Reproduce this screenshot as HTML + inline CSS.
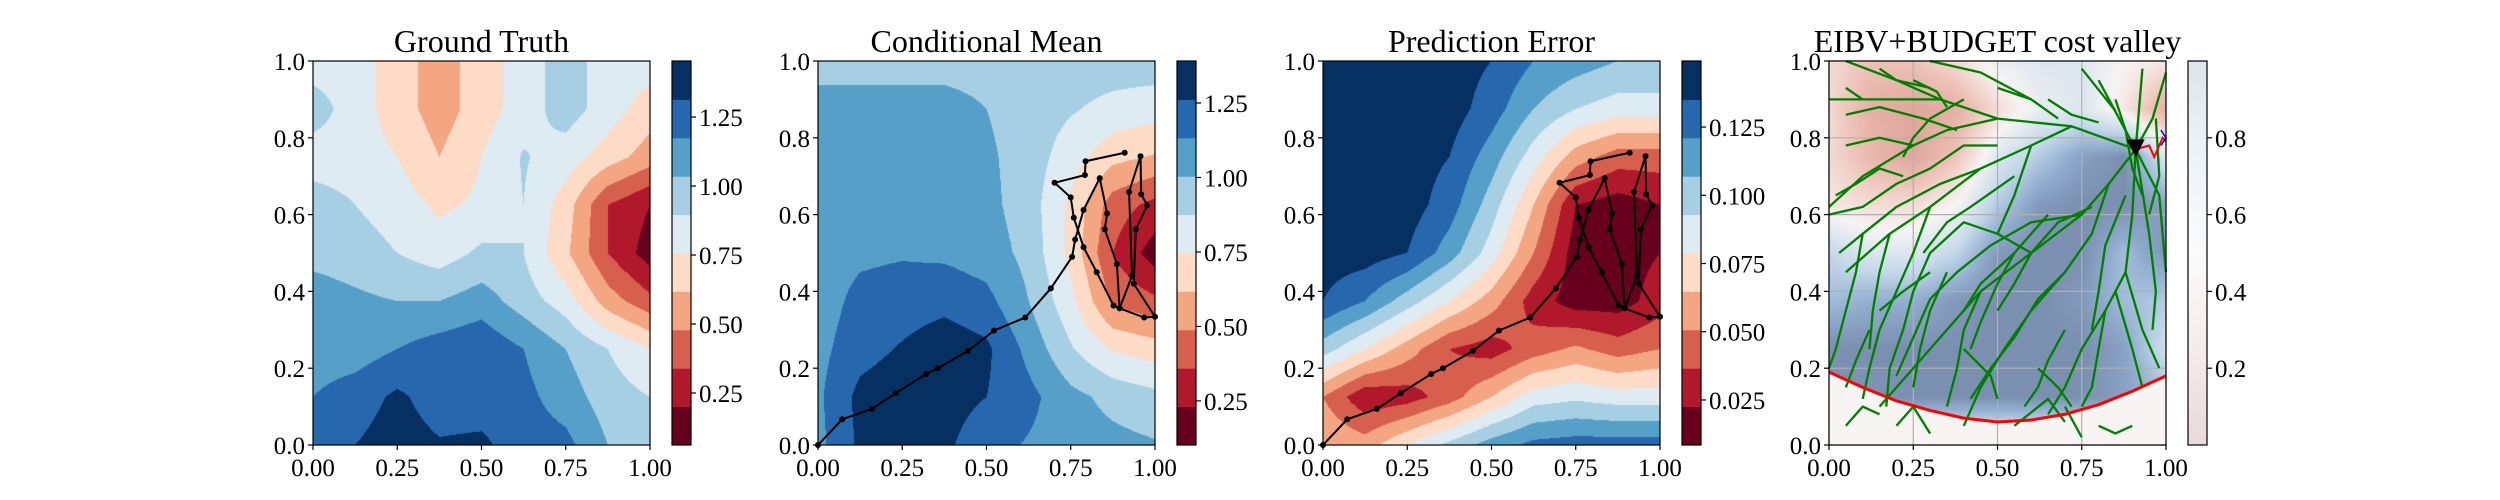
<!DOCTYPE html>
<html><head><meta charset="utf-8">
<style>
html,body{margin:0;padding:0;background:#fff;}
#root{position:relative;width:2500px;height:500px;overflow:hidden;font-family:"Liberation Serif",serif;}
canvas{position:absolute;}
svg{position:absolute;left:0;top:0;font-family:"Liberation Serif",serif;}
svg text{font-family:"Liberation Serif",serif;}
</style></head>
<body>
<div id="root">
<canvas id="c0" width="337" height="384" style="left:313px;top:61px"></canvas>
<canvas id="c1" width="337" height="384" style="left:818px;top:61px"></canvas>
<canvas id="c2" width="337" height="384" style="left:1323px;top:61px"></canvas>
<canvas id="c3" width="337" height="384" style="left:1829px;top:61px"></canvas>
<svg id="svg" width="2500" height="500"></svg>
</div>
<script>
// ---- data (grid nodes at x,y = 0..1 step 0.125; rows listed from y=1 down to y=0) ----
const truthGrid = [
[5,5,4,3,4,5,6,5,5],
[6,5,4,3,4,5,6,5,4],
[5,5,4.5,3.5,4.5,5.6,5,4,3],
[6,5.5,5,4.3,4.7,5.5,4,1.5,0.5],
[6.2,6,5.5,5,5.7,5.5,3.7,1.5,0],
[7,6.7,6.5,6.5,7,6,5,3,1.8],
[7,7,7.5,8,8.3,7.5,6.5,5.5,4.5],
[7.5,8,8.7,8,8,7.8,7,6,5.5],
[8,8.5,9,8.6,8.7,8,7.8,6.5,6]];
const meanGrid = [
[6,6,6,6,6,6,6,6,6],
[7,7,7,7,6.5,6,5.6,5.2,5],
[7,7,7,7,6.7,6,5,3.8,3.4],
[7,7,7,7,6.8,6,4.3,2,1.2],
[7,7.3,7.4,7.3,7,6.2,4.2,1.5,0],
[7,7.8,8,8.2,7.8,6.5,4.8,2.3,1.7],
[7.2,8.1,8.6,9.1,8.7,7.2,5.6,4.4,4],
[7.3,8.8,9.2,8.9,8.5,7.8,6.8,6.2,5.8],
[7.2,8.7,9.1,8.7,7.9,7.4,7,6.8,6.6]];
const errorGrid = [
[9,9,9,9,8.5,7.5,7,6.5,6.5],
[9,9,9,9,8,6.5,5.5,5,5],
[9,9,9,8.5,7,5,3,2,2],
[9,9,9,8,6,3.5,0.5,0,0.5],
[9,9,8.5,7,5,2.5,0,0,0.5],
[8.5,7.5,6,4.5,3,1,0,0,1],
[6,4.5,3,1.5,1,2,2.7,2,2.5],
[2.5,0.7,1,2,3.5,5,5.3,5,5],
[3.5,3,4.5,5.8,7,7.8,8,8,8]];
const costGrid = [
[.4,.3,.3,.4,.55,.6,.6,.5,.45],
[.4,.2,.15,.2,.4,.55,.6,.45,.2],
[.4,.25,.15,.3,.6,.75,.9,.97,.6],
[.45,.4,.4,.5,.75,.93,.97,.97,.9],
[.7,.6,.6,.7,.93,.97,.97,.8,.95],
[.8,.85,.85,.93,.97,.97,.93,.8,.75],
[.97,.97,.97,.97,.97,.97,.97,.9,.65],
[.95,.95,.97,.97,.97,.97,.97,.9,.8],
[.5,.5,.5,.5,.5,.5,.5,.5,.5]];
// sampled path (x, y)
const pathX = [0,.072,.16,.231,.321,.356,.445,.522,.615,.691,.754,.763,.788,.836,.858,.851,.887,.895,.932,.923,.957,.959,.977,.943,.937,1.0,.968,.895,.877,.827,.788,.759,.75,.702,.792,.794,.91];
const pathY = [0,.067,.094,.135,.185,.2,.245,.298,.332,.408,.49,.535,.612,.695,.603,.562,.471,.356,.441,.659,.752,.653,.624,.562,.42,.334,.332,.356,.363,.45,.515,.592,.645,.683,.703,.739,.761];
// budget arc
const arcX = [0,.1,.2,.3,.4,.5,.6,.7,.8,.9,1];
const arcY = [.19,.15,.115,.09,.07,.06,.065,.08,.105,.14,.18];
// tree branches (polylines, x list and y list)
const treeX = [
[.91,.72,.5,.33,.1,0],[.72,.6,.45,.3,.18,.05],[.5,.35,.25,.1,0],[.33,.2,.05],[.45,.33,.2,.1,.03],
[.6,.45,.3],[.8,.91],[.75,.85],[.93,.91],[1,.96,.91],
[.91,.83,.75,.6,.45,.35,.25,.15],[.83,.78,.7,.6,.52,.45,.4],[.91,.9,.88,.82,.75,.7,.65],[.91,.95,.97,.96],[.91,.98,1],
[.75,.6,.48,.38,.3,.25,.2],[.6,.5,.4,.3,.25,.22,.18,.17],[.3,.25,.2,.15,.12,.1],[.1,.08,.05,.02,0],
[.82,.8,.78,.75],[.85,.9,.93],[.88,.93,.98],[.7,.62,.55,.48,.42],[.45,.4,.38,.35],[.18,.15,.13,.12],
[.5,.4,.3,.2,.1,0],[.6,.55,.5],[.1,.05],[.25,.15,.05],[.4,.3,.25,.22],[.65,.72,.8],
[.05,.1,.15],[.2,.25,.3],[.55,.65,.7],[.75,.7],[.8,.85,.9],
[.38,.28,.15,.05],[.22,.15,.08,.02],[.55,.42,.35,.28],[.65,.55,.45,.4],[.78,.68,.6,.55,.5],
[.88,.82,.8,.78],[.7,.65,.62,.58],[.55,.5,.45,.42],[.35,.3,.27,.25],[.12,.08,.05],
[.25,.32,.35],[.15,.2,.3],[.5,.6,.68],[.85,.88,.9,.93],[.97,.98,.95],
[.62,.68,.72],[.4,.48,.5],[.3,.22,.15]];
const treeY = [
[.77,.83,.85,.9,.9,.9],[.83,.78,.72,.62,.55,.45],[.85,.82,.78,.7,.62],[.9,.95,1],[.72,.68,.62,.55,.5],
[.9,.97,1],[.95,.77],[.98,.87],[.98,.77],[.97,.85,.77],
[.77,.68,.6,.5,.4,.3,.2,.1],[.68,.55,.45,.35,.25,.15,.05],[.77,.6,.45,.35,.25,.15,.08],[.77,.55,.4,.3],[.77,.65,.45],
[.6,.58,.52,.45,.38,.28,.18],[.5,.55,.58,.5,.4,.3,.2,.1],[.62,.5,.4,.3,.2,.12],[.55,.45,.35,.25,.2],
[.35,.25,.15,.1],[.4,.25,.15],[.45,.3,.2],[.45,.38,.28,.2,.12],[.4,.3,.2,.1],[.55,.45,.35,.25],
[.78,.78,.72,.68,.62,.6],[.78,.65,.55],[.9,.93],[.78,.8,.78],[.9,.85,.8,.75],[.9,.86,.84],
[.05,.1,.08],[.05,.1,.03],[.05,.12,.06],[.02,.1],[.05,.03,.05],
[.82,.85,.88,.86],[.7,.72,.68,.65],[.7,.62,.58,.5],[.6,.5,.42,.35],[.62,.58,.5,.42,.35],
[.65,.52,.4,.3],[.3,.22,.15,.1],[.5,.42,.32,.25],[.45,.35,.25,.15],[.3,.22,.15],
[.95,.92,.88],[.98,.95,.93],[.93,.9,.85],[.9,.82,.72,.65],[.85,.7,.6],
[.2,.15,.1],[.25,.18,.12],[.45,.4,.35]];
const cbTicks = [[0.25,0.5,0.75,1.0,1.25],[0.25,0.5,0.75,1.0,1.25],[0.025,0.05,0.075,0.1,0.125],[0.2,0.4,0.6,0.8]];
const cbTickText = [["0.25","0.50","0.75","1.00","1.25"],["0.25","0.50","0.75","1.00","1.25"],["0.025","0.050","0.075","0.100","0.125"],["0.2","0.4","0.6","0.8"]];
const cbRange = [[0.0616,1.453],[0.102,1.391],[0.0085,0.1492],[0,1]];
const titles = ["Ground Truth","Conditional Mean","Prediction Error","EIBV+BUDGET cost valley"];
const xTicks = [0,0.25,0.5,0.75,1];
const xTickText = ["0.00","0.25","0.50","0.75","1.00"];
const yTicks = [0,0.2,0.4,0.6,0.8,1];
const yTickText = ["0.0","0.2","0.4","0.6","0.8","1.0"];

// ---- layout ----
const LEFTS=[313,818,1323,1829], TOP=61, W=337, H=384;
const BANDS=['#67001f','#b2182b','#d6604d','#f4a582','#fddbc7','#deebf2','#a7cfe4','#569fc9','#2767ad','#053061'];
const NS='http://www.w3.org/2000/svg';
const svg=document.getElementById('svg');
function el(tag,attrs,parent){const e=document.createElementNS(NS,tag);for(const k in attrs)e.setAttribute(k,attrs[k]);(parent||svg).appendChild(e);return e;}
function hex(h){return [parseInt(h.substr(1,2),16),parseInt(h.substr(3,2),16),parseInt(h.substr(5,2),16)];}
function bil(g,x,y){const gx=Math.min(7.9999,x*8),gy=Math.min(7.9999,(1-y)*8);const i=Math.floor(gx),j=Math.floor(gy),fx=gx-i,fy=gy-j;
 return g[j][i]*(1-fx)*(1-fy)+g[j][i+1]*fx*(1-fy)+g[j+1][i]*(1-fx)*fy+g[j+1][i+1]*fx*fy;}
const bandRGB=BANDS.map(hex);
function drawBanded(id,g){const c=document.getElementById(id).getContext('2d');const im=c.createImageData(W,H);
 for(let py=0;py<H;py++)for(let px=0;px<W;px++){const v=bil(g,(px+.5)/W,1-(py+.5)/H);let b=Math.round(v);b=Math.max(0,Math.min(9,b));const k=(py*W+px)*4,cc=bandRGB[b];im.data[k]=cc[0];im.data[k+1]=cc[1];im.data[k+2]=cc[2];im.data[k+3]=255;}
 c.putImageData(im,0,0);}
drawBanded('c0',truthGrid);drawBanded('c1',meanGrid);drawBanded('c2',errorGrid);
const costStops=[[0,'#d38a80'],[0.3,'#eec2b8'],[0.5,'#f7f4f3'],[0.7,'#c4d8ea'],[0.85,'#93aed0'],[1,'#7587a8']].map(s=>[s[0],hex(s[1])]);
function costColor(v){for(let i=1;i<costStops.length;i++){if(v<=costStops[i][0]){const a=costStops[i-1],b=costStops[i],t=(v-a[0])/(b[0]-a[0]);return [0,1,2].map(k=>Math.round(a[1][k]+(b[1][k]-a[1][k])*t));}}return costStops[costStops.length-1][1];}
(function(){const c=document.getElementById('c3').getContext('2d');const im=c.createImageData(W,H);
 for(let py=0;py<H;py++)for(let px=0;px<W;px++){const x=(px+.5)/W,y=1-(py+.5)/H;let v=bil(costGrid,x,y);
  const ai=Math.min(9,Math.floor(x*10)),t=x*10-ai,ay=arcY[ai]+(arcY[Math.min(10,ai+1)]-arcY[ai])*t;if(y<ay)v=0.5;
  const cc=costColor(v),k=(py*W+px)*4;im.data[k]=cc[0];im.data[k+1]=cc[1];im.data[k+2]=cc[2];im.data[k+3]=255;}
 c.putImageData(im,0,0);})();

for(let p=0;p<4;p++){
 const L=LEFTS[p];const sx=v=>L+v*W, sy=v=>TOP+H-v*H;
 const g=el('g',{});
 
 
 if(p===3){
  for(const t of xTicks){const ln=el('line',{x1:sx(t),x2:sx(t),y1:TOP,y2:TOP+H,stroke:'#b0b0b0','stroke-width':1.2},g);
   
   }
  for(const t of yTicks){const ln=el('line',{x1:L,x2:L+W,y1:sy(t),y2:sy(t),stroke:'#b0b0b0','stroke-width':1.2},g);
   
   }
  for(let b=0;b<treeX.length;b++){const pts=treeX[b].map((x,i)=>sx(x)+','+sy(treeY[b][i])).join(' ');
   const pl=el('polyline',{points:pts,fill:'none',stroke:'#008000','stroke-width':2.3,'stroke-linejoin':'round'},g);
   
   }
  const arc=el('polyline',{points:arcX.map((x,i)=>sx(x)+','+sy(arcY[i])).join(' '),fill:'none',stroke:'#ff0000','stroke-width':3},g);
  
  
  const rp=el('polyline',{points:[[.91,.77],[.95,.78],[.965,.75],[.99,.8],[1,.79]].map(q=>sx(q[0])+','+sy(q[1])).join(' '),fill:'none',stroke:'#ff0000','stroke-width':2},g);
  
  
  const bp=el('polyline',{points:[sx(.985)+','+sy(.82),sx(1)+','+sy(.8),sx(.985)+','+sy(.78)].join(' '),fill:'none',stroke:'#0000ff','stroke-width':1.5},g);
  
  
  const mx=sx(.91),my=sy(.77);
  const mk=el('polygon',{points:`${mx-9},${my-10} ${mx+9},${my-10} ${mx},${my+8}`,fill:'#000'},g);
  
  
 }
 if(p===1||p===2){
  const pl=el('polyline',{points:pathX.map((x,i)=>sx(x)+','+sy(pathY[i])).join(' '),fill:'none',stroke:'#000','stroke-width':2},g);
  
  
  for(let i=0;i<pathX.length;i++){const c=el('circle',{cx:sx(pathX[i]),cy:sy(pathY[i]),r:3,fill:'#000'},g);
   
   }
 }
 const fr=el('rect',{x:L,y:TOP,width:W,height:H,fill:'none',stroke:'#000','stroke-width':1.2},g);
 
 
 for(let i=0;i<xTicks.length;i++){const x=sx(xTicks[i]);el('line',{x1:x,x2:x,y1:TOP+H,y2:TOP+H+5,stroke:'#000','stroke-width':1.2},g);
  const t=el('text',{x:x,y:TOP+H+31,'text-anchor':'middle','font-size':25},g);t.textContent=xTickText[i];
  
  }
 for(let i=0;i<yTicks.length;i++){const y=sy(yTicks[i]);el('line',{x1:L-5,x2:L,y1:y,y2:y,stroke:'#000','stroke-width':1.2},g);
  const t=el('text',{x:L-8,y:y+9,'text-anchor':'end','font-size':25},g);t.textContent=yTickText[i];
  
  }
 const tt=el('text',{x:L+W/2,y:52,'text-anchor':'middle','font-size':32},g);tt.textContent=titles[p];
 
 
 // colorbar
 const cx=L+359,cw=19;const r=cbRange[p];const cy=v=>TOP+H-(v-r[0])/(r[1]-r[0])*H;
 const cb=el('g',{},g);
 
 
 if(p<3){for(let b=0;b<10;b++){el('rect',{x:cx,y:TOP+H-(b+1)*H/10,width:cw,height:H/10+0.5,fill:BANDS[b]},cb);}}
 else{const gid='cg';const lg=el('linearGradient',{id:gid,x1:0,y1:1,x2:0,y2:0},cb);
  [['0','#e9d9dd'],['0.3','#f8eeee'],['0.5','#fbfbfb'],['0.75','#eef3f8'],['1','#dfe4ec']].forEach(s=>el('stop',{offset:s[0],'stop-color':s[1]},lg));
  el('rect',{x:cx,y:TOP,width:cw,height:H,fill:'url(#cg)'},cb);}
 el('rect',{x:cx,y:TOP,width:cw,height:H,fill:'none',stroke:'#000','stroke-width':1.2},cb);
 for(let i=0;i<cbTicks[p].length;i++){const y=cy(cbTicks[p][i]);el('line',{x1:cx+cw,x2:cx+cw+5,y1:y,y2:y,stroke:'#000','stroke-width':1.2},cb);
  const t=el('text',{x:cx+cw+8,y:y+9,'font-size':25},cb);t.textContent=cbTickText[p][i];
  
  }
}
</script>
</body></html>
